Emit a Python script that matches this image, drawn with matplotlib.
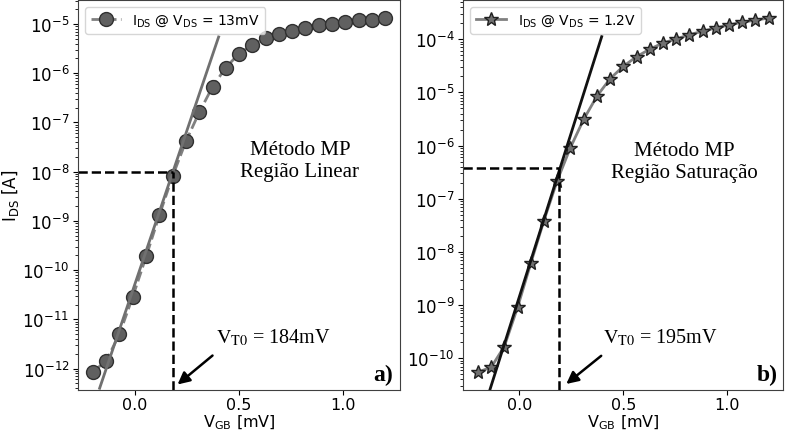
import matplotlib
matplotlib.use('Agg')
import matplotlib.pyplot as plt

# V_GB sweep [V] (same for both curves)
vgb = [-0.2, -0.136, -0.073, -0.009, 0.055, 0.118, 0.182, 0.245, 0.309, 0.373,
       0.436, 0.5, 0.564, 0.627, 0.691, 0.755, 0.818, 0.882, 0.945, 1.009,
       1.073, 1.136, 1.2]

# I_DS @ V_DS = 13mV (linear region)
ids_lin = [8.5e-13, 1.45e-12, 5.0e-12, 2.9e-11, 1.9e-10, 1.3e-9, 8.2e-9, 4.1e-8,
           1.6e-7, 5.3e-7, 1.3e-6, 2.5e-6, 3.8e-6, 5.2e-6, 6.4e-6, 7.3e-6,
           8.4e-6, 9.5e-6, 1.02e-5, 1.11e-5, 1.18e-5, 1.22e-5, 1.32e-5]

# I_DS @ V_DS = 1.2V (saturation region)
ids_sat = [5.5e-11, 6.8e-11, 1.66e-10, 9.1e-10, 6.2e-9, 3.9e-8, 2.2e-7, 9.1e-7,
           3.1e-6, 8.5e-6, 1.8e-5, 3.1e-5, 4.7e-5, 6.5e-5, 8.5e-5, 1.01e-4,
           1.22e-4, 1.41e-4, 1.63e-4, 1.86e-4, 2.09e-4, 2.28e-4, 2.51e-4]

# max-slope tangent lines
tan_lin_x = [-0.168, 0.402]
tan_lin_y = [3.98e-13, 5.46e-6]
tan_sat_x = [-0.141, 0.396]
tan_sat_y = [2.65e-11, 1.12e-4]

# threshold extraction
vt0_lin, ids_vt_lin = 0.184, 1.0e-8
vt0_sat, ids_vt_sat = 0.19, 3.8e-7

label_lin = r'$\mathrm{I_{DS}}$ @ $\mathrm{V_{DS}}$ = 13mV'
label_sat = r'$\mathrm{I_{DS}}$ @ $\mathrm{V_{DS}}$ = 1.2V'

fig = plt.figure(figsize=(7.88, 4.39), dpi=100)
ax1 = fig.add_axes([0.0994, 0.110, 0.408, 0.888])
ax2 = fig.add_axes([0.588, 0.110, 0.406, 0.888])

serif = 'Liberation Serif'

# ---- a) linear region
ax1.plot(vgb, ids_lin, '--o', color='#808080', lw=2, ms=10,
         mfc='#606060', mec='#303030', label=label_lin)
ax1.plot(tan_lin_x, tan_lin_y, '-', color='#707070', lw=2)
ax1.set_yscale('log')
ax1.set_xlim(-0.27, 1.27)
ax1.set_ylim(10**-12.43, 10**-4.51)
ax1.plot([-0.27, vt0_lin], [ids_vt_lin, ids_vt_lin], 'k--', lw=1.8)
ax1.plot([vt0_lin, vt0_lin], [10**-12.43, ids_vt_lin], 'k--', lw=1.8)
ax1.annotate('', xy=(0.195, 10**-12.36), xytext=(0.383, 10**-11.70),
             arrowprops=dict(arrowstyle='-|>', color='black', lw=1.8, mutation_scale=18))
ax1.text(0.391, 10**-11.35, r'$\mathrm{V_{T0}}$ = 184mV', fontsize=14.5,
         family=serif, math_fontfamily='stix', va='center', ha='left')
ax1.text(0.689, 0.588, 'Método MP\nRegião Linear', transform=ax1.transAxes,
         fontsize=15, family=serif, ha='center', va='center', linespacing=1.25)
ax1.text(0.978, 0.012, 'a)', transform=ax1.transAxes, fontsize=17, family=serif,
         fontweight='bold', ha='right', va='bottom')
ax1.set_ylabel(r'$\mathrm{I_{DS}}$ [A]', fontsize=12, labelpad=1)
ax1.set_xlabel(r'$\mathrm{V_{GB}}$ [mV]', fontsize=11.5, labelpad=0)
ax1.legend(loc='upper left', fontsize=10, handlelength=2.2, borderpad=0.4)

# ---- b) saturation region
ax2.plot(vgb, ids_sat, '-*', color='#808080', lw=2, ms=10,
         mfc='#707070', mec='#202020', label=label_sat)
ax2.plot(tan_sat_x, tan_sat_y, '-', color='#111111', lw=2)
ax2.set_yscale('log')
ax2.set_xlim(-0.27, 1.27)
ax2.set_ylim(10**-10.59, 10**-3.26)
ax2.plot([-0.27, vt0_sat], [ids_vt_sat, ids_vt_sat], 'k--', lw=1.8)
ax2.plot([vt0_sat, vt0_sat], [10**-10.59, ids_vt_sat], 'k--', lw=1.8)
ax2.annotate('', xy=(0.215, 10**-10.515), xytext=(0.404, 10**-9.92),
             arrowprops=dict(arrowstyle='-|>', color='black', lw=1.8, mutation_scale=18))
ax2.text(0.402, 10**-9.6, r'$\mathrm{V_{T0}}$ = 195mV', fontsize=14.5,
         family=serif, math_fontfamily='stix', va='center', ha='left')
ax2.text(0.69, 0.585, 'Método MP\nRegião Saturação', transform=ax2.transAxes,
         fontsize=15, family=serif, ha='center', va='center', linespacing=1.25)
ax2.text(0.983, 0.012, 'b)', transform=ax2.transAxes, fontsize=17, family=serif,
         fontweight='bold', ha='right', va='bottom')
ax2.set_xlabel(r'$\mathrm{V_{GB}}$ [mV]', fontsize=11.5, labelpad=0)
ax2.legend(loc='upper left', fontsize=10, handlelength=2.2, borderpad=0.4)

for ax in (ax1, ax2):
    ax.tick_params(labelsize=12, pad=3)
    ax.tick_params(axis='x', labelsize=11.5, pad=2)
    for s in ax.spines.values():
        s.set_color('#404040')

fig.savefig('out.png', dpi=100)
